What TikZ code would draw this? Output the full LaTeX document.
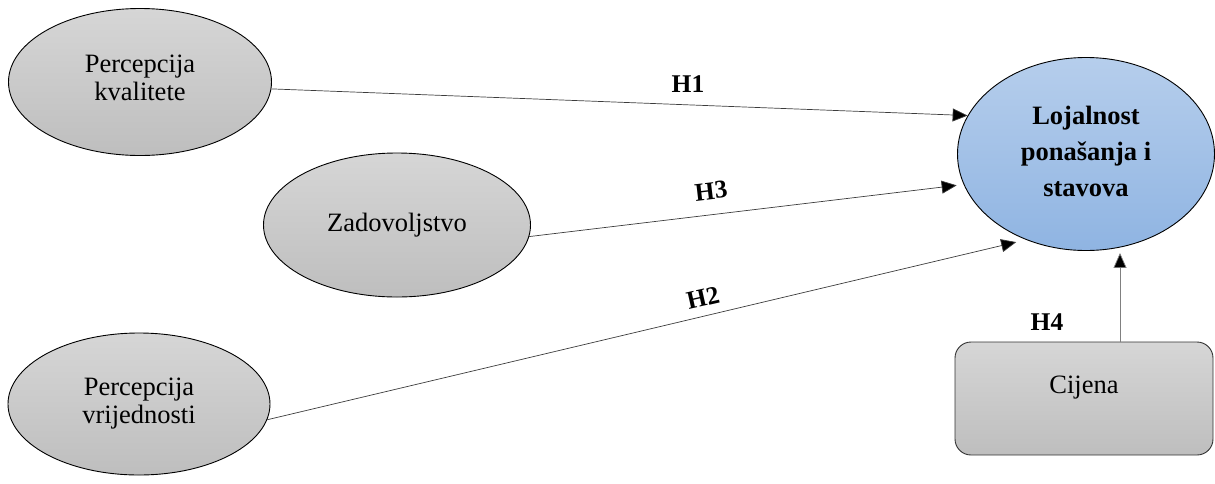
\documentclass[tikz,border=0pt]{standalone}
\usepackage{fontspec}
\setmainfont{Liberation Serif}
\usetikzlibrary{arrows.meta,shapes.geometric}
\definecolor{gtop}{RGB}{214,214,214}
\definecolor{gbot}{RGB}{190,190,190}
\definecolor{btop}{RGB}{182,206,236}
\definecolor{bbot}{RGB}{143,180,226}
\definecolor{linec}{RGB}{60,60,60}
\tikzset{
  oval/.style={ellipse, draw=black, line width=0.9pt, top color=gtop, bottom color=gbot,
    inner sep=0pt, align=center, font=\fontsize{26.5}{30}\selectfont},
  bluoval/.style={oval, top color=btop, bottom color=bbot, font=\fontsize{26.5}{36}\selectfont\bfseries},
  pricebox/.style={rectangle, rounded corners=16pt, draw=black!80, line width=0.9pt,
    top color=gtop, bottom color=gbot, inner sep=0pt, font=\fontsize{26.5}{30}\selectfont},
  arr/.style={draw=linec, line width=0.7pt, -{Triangle[length=15pt,width=13pt,fill=black]}},
  hlab/.style={font=\fontsize{25.5}{30}\selectfont\bfseries, inner sep=0pt}
}
\begin{document}
\begin{tikzpicture}[x=1pt,y=-1pt]
\useasboundingbox (0,0) rectangle (1215,483);
\node[oval, minimum width=263pt, minimum height=147pt,
  label={[align=center, font=\fontsize{26.5}{30}\selectfont, yshift=4.5pt]center:Percepcija\\[-2pt]kvalitete}] (pk) at (140,82) {};
\node[oval, minimum width=267pt, minimum height=144pt] (zd) at (397,225) {Zadovoljstvo};
\node[oval, minimum width=262pt, minimum height=142pt] (pv) at (139,404) {Percepcija\\[-2pt]vrijednosti};
\node[bluoval, minimum width=257pt, minimum height=193pt,
  label={[align=center, font=\fontsize{26.5}{36}\selectfont\bfseries, yshift=2.5pt]center:Lojalnost\\ponašanja i\\stavova}] (lo) at (1086,154) {};
\node[pricebox, minimum width=258pt, minimum height=113pt, text height=12pt, text depth=23pt] (cj) at (1084,398.5) {Cijena};
\draw[arr] (pk.-3.5) -- (lo.162.6);
\draw[arr, shorten >=7pt] (zd.-5) -- (lo.194.3);
\draw[arr, shorten >=10pt] (pv.-7) -- (lo.235);
\coordinate (h4top) at ([xshift=34pt]lo.south);
\draw[arr, draw=black!50, shorten >=2pt] (cj.north -| h4top) -- (h4top |- lo.south);
\node[hlab] (l1) at (688,84) {H1};
\node[hlab, rotate=6.7] (l3) at (711,191) {H3};
\node[hlab, rotate=12.8] (l2) at (703,298) {H2};
\node[hlab] (l4) at (1047,322) {H4};
\end{tikzpicture}
\end{document}
